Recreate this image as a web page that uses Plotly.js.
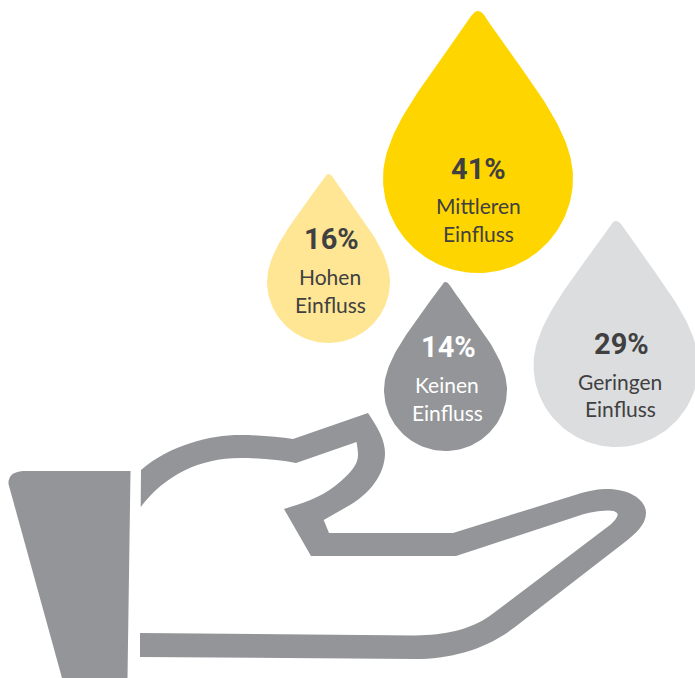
<!DOCTYPE html>
<html lang="de">
<head>
<meta charset="utf-8">
<title>Einfluss</title>
<script src="https://cdn.plot.ly/plotly-3.0.1.min.js"></script>
<style>
  html, body { margin: 0; padding: 0; background: #fff; overflow: hidden; }
  #chart { width: 695px; height: 678px; }
</style>
</head>
<body>
<div id="chart"></div>
<script>
// Survey shares and their labels
const categories = ["Mittleren", "Hohen", "Keinen", "Geringen"];
const secondLine = "Einfluss";
const shares = [41, 16, 14, 29];

// Placement of each drop in the page's pixel-sized coordinate system
const tipX = [478, 328.5, 445.5, 616];
const tipY = [11, 174, 282, 221];
const dropWidth = [190, 123, 123, 165];
const dropHeight = [262, 169, 169, 226];
const dropColor = ["#FFD500", "#FFE695", "#939598", "#DCDDDF"];
const textColor = ["#404041", "#404041", "#FFFFFF", "#404041"];
const percentX = [478, 331, 448, 621];
const percentY = [169, 239, 347, 344];
const labelX = [478, 330, 447, 620];
const labelY = [205.5, 276.5, 384.5, 381.5];
const labelGap = [28, 28, 28, 27];

// Outline of a drop's right half: x in half widths, y from tip (0) to base (1)
const halfOutline = [
  [[0, 0], [0.03, 0], [0.06, 0.01], [0.09, 0.03]],
  [[0.09, 0.03], [0.5, 0.25], [1, 0.45], [1, 0.637]],
  [[1, 0.637], [1, 0.837], [0.552, 1], [0, 1]]
];

function sampleHalf() {
  const pts = [];
  halfOutline.forEach(seg => {
    for (let i = 0; i <= 40; i++) {
      const t = i / 40, u = 1 - t;
      const w = [u * u * u, 3 * u * u * t, 3 * u * t * t, t * t * t];
      pts.push([
        w.reduce((s, k, j) => s + k * seg[j][0], 0),
        w.reduce((s, k, j) => s + k * seg[j][1], 0)
      ]);
    }
  });
  return pts;
}

const half = sampleHalf();
const traces = categories.map((name, i) => {
  const right = half.map(p => [tipX[i] + p[0] * dropWidth[i] / 2, tipY[i] + p[1] * dropHeight[i]]);
  const left = half.slice().reverse().map(p => [tipX[i] - p[0] * dropWidth[i] / 2, tipY[i] + p[1] * dropHeight[i]]);
  const ring = right.concat(left);
  return {
    type: "scatter", mode: "lines", fill: "toself", name: name,
    x: ring.map(p => p[0]), y: ring.map(p => p[1]),
    fillcolor: dropColor[i], line: { width: 0, color: dropColor[i] },
    hoverinfo: "skip", showlegend: false
  };
});

const figureFont = "Roboto, Lato, sans-serif";
const bodyFont = "Lato, 'Noto Sans', sans-serif";
const annotations = [];
categories.forEach((name, i) => {
  const base = { xref: "x", yref: "y", showarrow: false, xanchor: "center", yanchor: "middle" };
  annotations.push(Object.assign({}, base, {
    x: percentX[i], y: percentY[i], text: "<b>" + shares[i] + "%</b>",
    font: { family: figureFont, size: 29, color: textColor[i] }
  }));
  annotations.push(Object.assign({}, base, {
    x: labelX[i], y: labelY[i], text: name,
    font: { family: bodyFont, size: 21, color: textColor[i] }
  }));
  annotations.push(Object.assign({}, base, {
    x: labelX[i], y: labelY[i] + labelGap[i], text: secondLine,
    font: { family: bodyFont, size: 21, color: textColor[i] }
  }));
});

// The open hand below the drops: sleeve cuff and palm outline
const handGrey = "#939598";
const cuffPath = "M130.5 471 L23 471 Q8 472 8.5 484 L62 678 L127.5 678 Z";
const palmPath = "M141 470 C170 445 210 435 240 435 C260 435 278 437 293 439 L368 413 " +
  "C378 428 385 440 385 453 C385 470 375 490 350 505 L323.7 520 L329 533 L453 533 L575 495 " +
  "C590 490 600 489 607 489 C630 489 646 500 646 513 C646 525 635 534 625 542 L515 627 " +
  "C485 650 450 659 415 659 L140 657 L140 633 L415 635.5 C445 635 470 630 491 615 L610 525 " +
  "C616 520 619 515 617 513 C615 510 608 510 600 511 C590 512 585 514 581 515 L456 556 L311 556 " +
  "L284 509 C300 504 320 498 335 486 C350 474 358 465 358 455 C358 450 357 445 356.5 442 " +
  "L296 463 C280 460 260 458 240 458 C200 458 165 475 140.7 507 Z";

const layout = {
  width: 695, height: 678,
  margin: { l: 0, r: 0, t: 0, b: 0 },
  paper_bgcolor: "#FFFFFF", plot_bgcolor: "#FFFFFF",
  xaxis: { range: [0, 695], visible: false, fixedrange: true },
  yaxis: { range: [678, 0], visible: false, fixedrange: true },
  showlegend: false,
  annotations: annotations,
  shapes: [cuffPath, palmPath].map(p => ({
    type: "path", path: p, xref: "x", yref: "y", layer: "below",
    fillcolor: handGrey, line: { width: 0 }
  }))
};

Plotly.newPlot("chart", traces, layout, { displayModeBar: false, staticPlot: true });
</script>
</body>
</html>
